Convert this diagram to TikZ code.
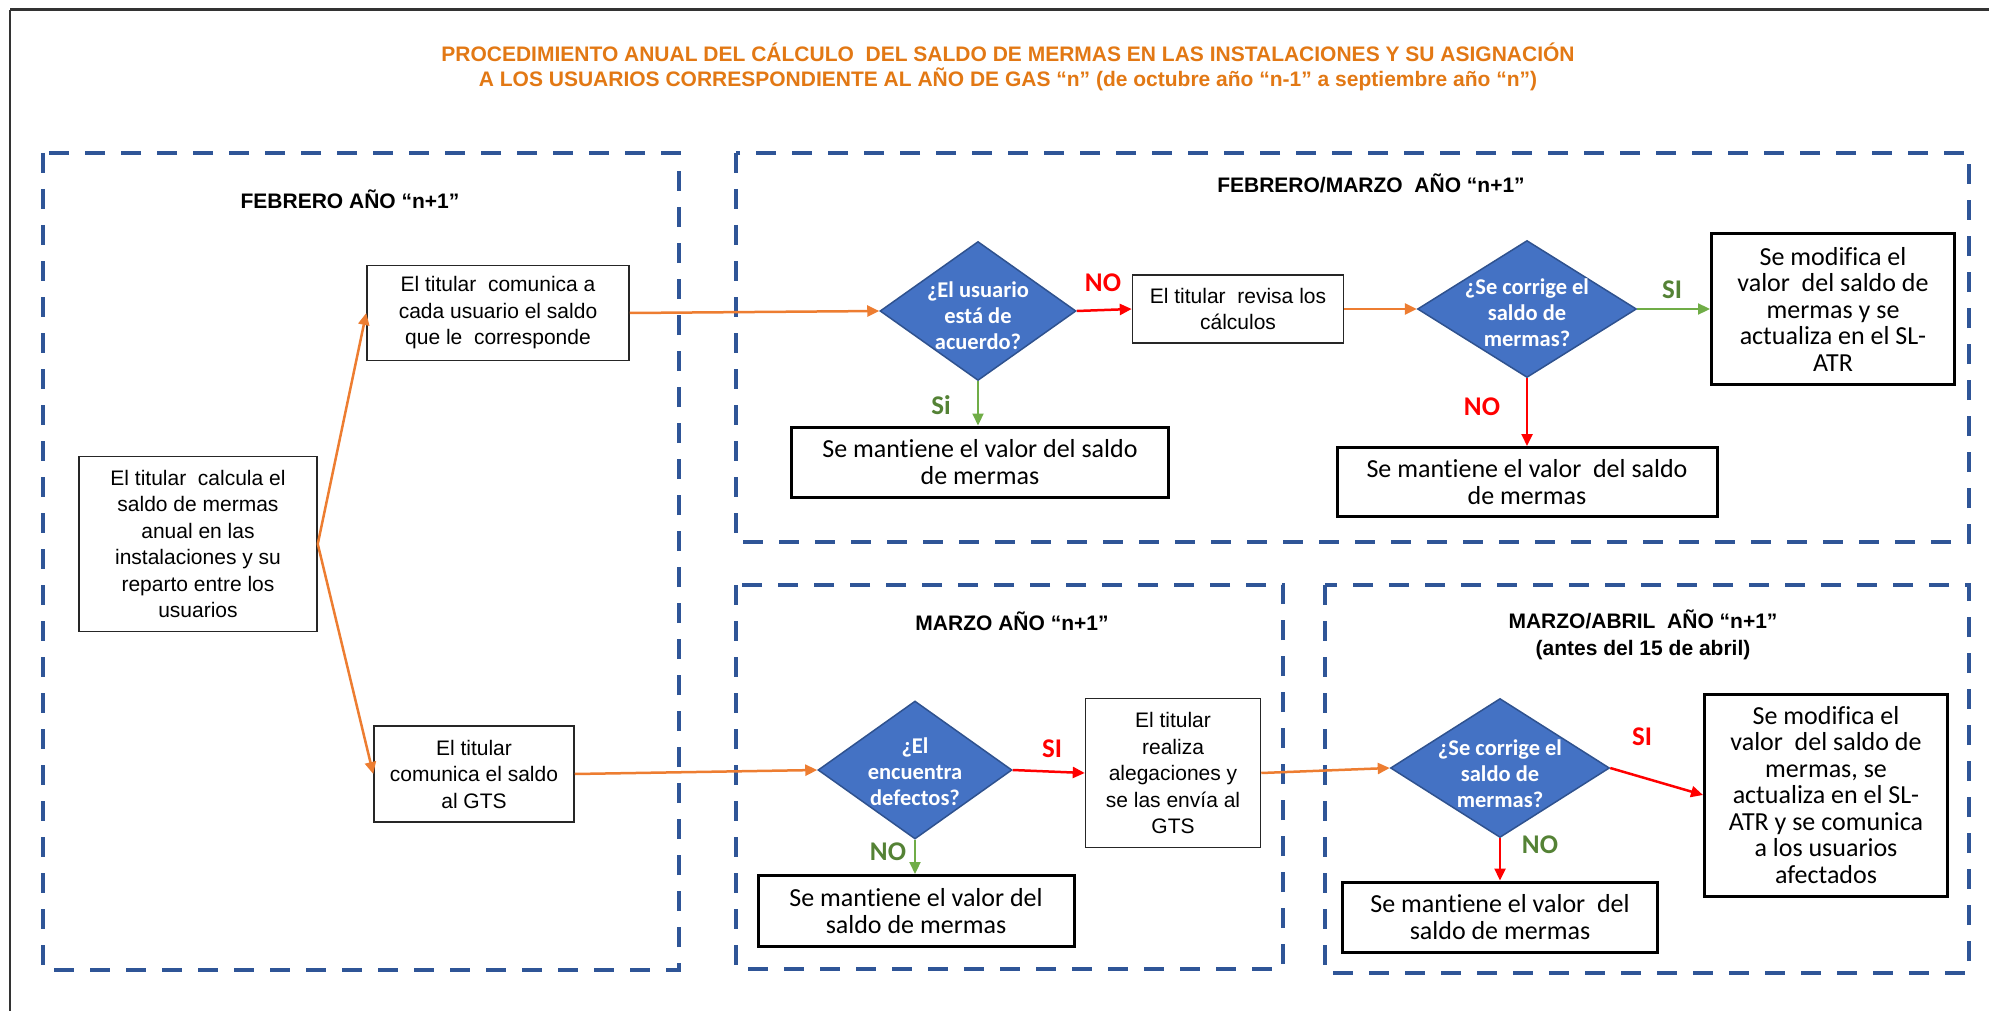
\documentclass[tikz,border=0pt]{standalone}
\usepackage{fontspec}
\setmainfont{Liberation Sans}
\newfontfamily\carlito[Ligatures=NoCommon]{Carlito}
\usetikzlibrary{shapes.geometric,arrows.meta}
\definecolor{ttl}{RGB}{226,120,20}
\definecolor{frameblue}{RGB}{47,85,151}
\definecolor{decfill}{RGB}{68,114,196}
\definecolor{decline}{RGB}{47,82,143}
\definecolor{aorange}{RGB}{237,125,49}
\definecolor{ared}{RGB}{255,0,0}
\definecolor{agreen}{RGB}{112,173,71}
\definecolor{lgreen}{RGB}{84,130,53}
\begin{document}
\begin{tikzpicture}[x=1pt,y=-1pt,
  phase/.style={draw=frameblue, line width=4.5pt, dash pattern=on 20pt off 16pt},
  ttlstyle/.style={text=ttl, align=center, inner sep=0pt, font=\fontsize{21}{25}\selectfont\bfseries},
  head/.style={align=center, inner sep=0pt, font=\fontsize{21}{27}\selectfont\bfseries},
  stepbox/.style={draw=black!85, line width=1.5pt, fill=white, align=center, inner sep=0pt, font=\fontsize{21}{26.5}\selectfont},
  keepbox/.style={draw=black, line width=3pt, fill=white, align=center, inner sep=0pt, font=\carlito\fontsize{26}{26.5}\selectfont},
  dec/.style={diamond, draw=decline, line width=1.5pt, fill=decfill, inner sep=0pt},
  dectext/.style={text=white, align=center, inner sep=0pt, font=\carlito\bfseries\fontsize{22.5}{26}\selectfont},
  tag/.style={inner sep=0pt, font=\carlito\bfseries\fontsize{27}{27}\selectfont},
  flow/.style={line width=2.5pt, -{Triangle[length=12pt,width=11pt]}},
  yesno/.style={line width=2.2pt, -{Triangle[length=12pt,width=11pt]}}
]
\useasboundingbox (0,0) rectangle (1989,1011);

% page frame
\draw[black!80, line width=3pt] (10,10) -- (1989,10);
\draw[black!80, line width=2pt] (10,10) -- (10,1011);

% title
\node[ttlstyle] (title) at (1008,66.5) {PROCEDIMIENTO ANUAL DEL CÁLCULO~ DEL SALDO DE MERMAS EN LAS INSTALACIONES Y SU ASIGNACIÓN\\A LOS USUARIOS CORRESPONDIENTE AL AÑO DE GAS “n” (de octubre año “n-1” a septiembre año “n”)};

% phase frames
\draw[phase] (43,153) rectangle (679,970);
\draw[phase] (736,153) rectangle (1969,542);
\draw[phase] (736,585) rectangle (1283,969);
\draw[phase] (1325,585) rectangle (1969,973);

% phase headings
\node[head] (h1) at (350,199) {FEBRERO AÑO “n+1”};
\node[head] (h2) at (1371,183) {FEBRERO/MARZO~ AÑO “n+1”};
\node[head] (h3) at (1012,621) {MARZO AÑO “n+1”};
\node[head] (h4) at (1643,634.5) {MARZO/ABRIL~ AÑO “n+1”\\(antes del 15 de abril)};

% steps
\node[stepbox, minimum width=238pt, minimum height=175pt] (a) at (198,544) {El titular~ calcula el\\saldo de mermas\\anual en las\\instalaciones y su\\reparto entre los\\usuarios};
\node[stepbox, minimum width=262pt, minimum height=95pt] (b) at (498,313) {El titular~ comunica a\\cada usuario el saldo\\que le~ corresponde};
\node[stepbox, minimum width=200pt, minimum height=96pt] (c) at (474,774) {El titular\\comunica el saldo\\al GTS};
\node[stepbox, minimum width=211pt, minimum height=68pt] (e) at (1238,309) {El titular~ revisa los\\cálculos};
\node[stepbox, minimum width=175pt, minimum height=149pt] (h) at (1173,773) {El titular\\realiza\\alegaciones y\\se las envía al\\GTS};

% outcomes
\node[keepbox, minimum width=377pt, minimum height=70pt] (g1) at (980,462) {Se mantiene el valor del saldo\\de mermas};
\node[keepbox, minimum width=380pt, minimum height=69pt] (g2) at (1527,482) {Se mantiene el valor~ del saldo\\de mermas};
\node[keepbox, minimum width=316pt, minimum height=71pt] (g3) at (916,911) {Se mantiene el valor del\\saldo de mermas};
\node[keepbox, minimum width=315pt, minimum height=70pt] (g4) at (1500,917) {Se mantiene el valor~ del\\saldo de mermas};
\node[keepbox, minimum width=243pt, minimum height=150pt] (f) at (1833,309) {Se modifica el\\valor~ del saldo de\\mermas y se\\actualiza en el SL-\\ATR};
\node[keepbox, minimum width=243pt, minimum height=202pt] (i) at (1826,795) {Se modifica el\\valor~ del saldo de\\mermas, se\\actualiza en el SL-\\ATR y se comunica\\a los usuarios\\afectados};

% decisions
\node[dec, minimum width=196pt, minimum height=139pt] (d1) at (978,311) {};
\node[dectext] (d1q) at (978,316) {¿El usuario\\está de\\acuerdo?};
\node[dec, minimum width=219pt, minimum height=137pt] (d2) at (1527,309) {};
\node[dectext] (d2q) at (1527,313) {¿Se corrige el\\saldo de\\mermas?};
\node[dec, minimum width=194pt, minimum height=138pt] (d3) at (915,770) {};
\node[dectext] (d3q) at (915,772) {¿El\\encuentra\\defectos?};
\node[dec, minimum width=219pt, minimum height=139pt] (d4) at (1500,768) {};
\node[dectext] (d4q) at (1500,774) {¿Se corrige el\\saldo de\\mermas?};

% connectors
\draw[flow, aorange] (a.east) -- (b.west);
\draw[flow, aorange] (a.east) -- (c.west);
\draw[flow, aorange] (b.east) -- (d1.west);
\draw[flow, ared] (d1.east) -- (e.west);
\draw[yesno, agreen] (d1.south) -- (d1.south |- g1.north);
\draw[flow, aorange] (e.east) -- (d2.west);
\draw[yesno, agreen] (d2.east) -- (f.west);
\draw[flow, ared] (d2.south) -- (d2.south |- g2.north);
\draw[flow, aorange] (c.east) -- (d3.west);
\draw[flow, ared] (d3.east) -- (h.west);
\draw[yesno, agreen] (d3.south) -- (d3.south |- g3.north);
\draw[flow, aorange] (h.east) -- (d4.west);
\draw[flow, ared] (d4.east) -- (i.west);
\draw[flow, ared] (d4.south) -- (d4.south |- g4.north);

% branch tags
\node[tag, text=ared] (t1) at (1103,283) {NO};
\node[tag, text=lgreen] (t2) at (941,405) {Si};
\node[tag, text=lgreen] (t3) at (1672,290) {SI};
\node[tag, text=ared] (t4) at (1482,407) {NO};
\node[tag, text=ared] (t5) at (1052,749) {SI};
\node[tag, text=lgreen] (t6) at (888,852) {NO};
\node[tag, text=ared] (t7) at (1642,737) {SI};
\node[tag, text=lgreen] (t8) at (1540,845) {NO};
\end{tikzpicture}
\end{document}
